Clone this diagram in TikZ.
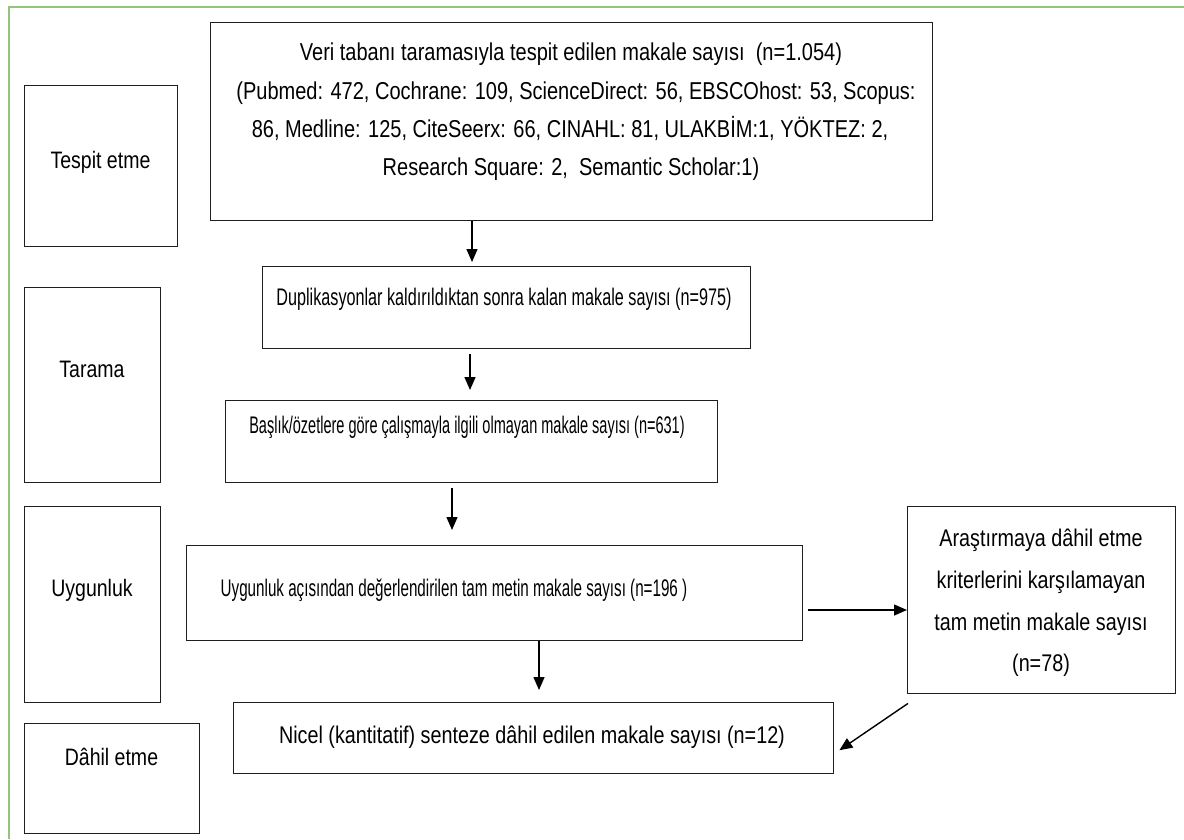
\documentclass[tikz,border=0pt]{standalone}
\usepackage{fontspec}
\setmainfont{Liberation Sans}
\newfontfamily\nf[FakeStretch=0.82]{Liberation Sans}
\newfontfamily\nfb[FakeStretch=0.675]{Liberation Sans}
\newfontfamily\nfc[FakeStretch=0.605]{Liberation Sans}
\newfontfamily\nfd[FakeStretch=0.633]{Liberation Sans}
\usetikzlibrary{arrows.meta}
\definecolor{framegreen}{RGB}{146,196,125}
\begin{document}
\begin{tikzpicture}[x=1pt,y=-1pt,
  box/.style={draw=black!88, line width=1.4pt, inner sep=0pt, anchor=north west},
  txt/.style={anchor=base, inner sep=0pt, font=\nf\fontsize{#1}{#1}\selectfont},
  txtn/.style={anchor=base, inner sep=0pt},
  arr/.style={draw=black, line width=1.4pt, -{Triangle[length=13pt,width=11pt]}},
  greenframe/.style={draw=framegreen, line width=1.2pt}]
\useasboundingbox (0,0) rectangle (1184,839);
\fill[white] (0,0) rectangle (1184,839);
\draw[greenframe] (9,839) -- (9,7) -- (1184,7);

% stage label boxes
\node[box, minimum width=153pt, minimum height=161pt] (tespitL) at (24,85) {};
\node[box, minimum width=136pt, minimum height=195pt] (taramaL) at (24,287) {};
\node[box, minimum width=136pt, minimum height=196pt] (uygunL) at (24,506) {};
\node[box, minimum width=175pt, minimum height=110pt] (dahilL) at (24,723) {};

\node[txt=23.8] (tespitT) at (100.5,168) {Tespit etme};
\node[txt=23.8] (taramaT) at (92,377) {Tarama};
\node[txt=23.8] (uygunT) at (92,596) {Uygunluk};
\node[txt=23.8] (dahilT) at (111.5,765) {Dâhil etme};

% flow boxes
\node[box, minimum width=722pt, minimum height=198pt] (b1) at (210,22) {};
\node[box, minimum width=488pt, minimum height=82pt] (b2) at (262,266) {};
\node[box, minimum width=492pt, minimum height=82pt] (b3) at (225,400) {};
\node[box, minimum width=616pt, minimum height=95pt] (b4) at (186,545) {};
\node[box, minimum width=600pt, minimum height=71pt] (b5) at (233,702) {};
\node[box, minimum width=268pt, minimum height=187pt] (b6) at (907,506) {};

\node[txt=24.4] (b1l1) at (571,60) {Veri tabanı taramasıyla tespit edilen makale sayısı \ (n=1.054)};
\node[txt=24.4] (b1l2) at (576,99) {(Pubmed: 472, Cochrane: 109, ScienceDirect: 56, EBSCOhost: 53, Scopus:};
\node[txt=24.4] (b1l3) at (570,137) {86, Medline: 125, CiteSeerx: 66, CINAHL: 81, ULAKBİM:1, YÖKTEZ: 2,};
\node[txt=24.4] (b1l4) at (571,175) {Research Square: 2, \ Semantic Scholar:1)};

\node[txtn, font=\nfb\fontsize{24}{24}\selectfont] (b2t) at (504,305) {Duplikasyonlar kaldırıldıktan sonra kalan makale sayısı (n=975)};
\node[txtn, font=\nfc\fontsize{24}{24}\selectfont] (b3t) at (467,433) {Başlık/özetlere göre çalışmayla ilgili olmayan makale sayısı (n=631)};
\node[txtn, font=\nfd\fontsize{24}{24}\selectfont] (b4t) at (454,596) {Uygunluk açısından değerlendirilen tam metin makale sayısı (n=196 )};
\node[txt=24.1] (b5t) at (532,743) {Nicel (kantitatif) senteze dâhil edilen makale sayısı (n=12)};

\node[txt=24.1] (b6l1) at (1041,546) {Araştırmaya dâhil etme};
\node[txt=24.1] (b6l2) at (1041,588) {kriterlerini karşılamayan};
\node[txt=24.1] (b6l3) at (1041,630) {tam metin makale sayısı};
\node[txt=24.1] (b6l4) at (1041,671) {(n=78)};

% connectors
\draw[arr, shorten >=4pt] ([xshift=262pt]b1.south west) -- ([xshift=210pt]b2.north west);
\draw[arr, shorten <=5pt, shorten >=10pt] ([xshift=208pt]b2.south west) -- ([xshift=245pt]b3.north west);
\draw[arr, shorten <=5pt, shorten >=15pt] ([xshift=227pt]b3.south west) -- ([xshift=266pt]b4.north west);
\draw[arr, shorten >=12pt] ([xshift=353pt]b4.south west) -- ([xshift=306pt]b5.north west);
\draw[arr, shorten <=5pt] ([yshift=-65pt]b4.north east) -- ([yshift=-104pt]b6.north west);
\draw[arr] ([xshift=1pt,yshift=-9pt]b6.south west) -- ([xshift=5pt,yshift=-12pt]b5.east);
\end{tikzpicture}
\end{document}
